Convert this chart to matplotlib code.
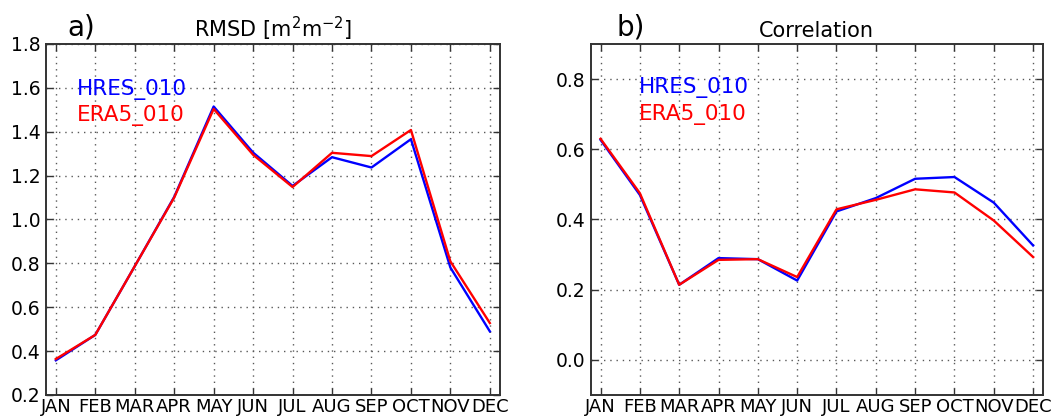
import matplotlib
matplotlib.use('Agg')
import matplotlib.pyplot as plt

months = ['JAN', 'FEB', 'MAR', 'APR', 'MAY', 'JUN', 'JUL', 'AUG', 'SEP', 'OCT', 'NOV', 'DEC']

# RMSD [m2 m-2]
rmsd_hres = [0.358, 0.474, 0.787, 1.103, 1.515, 1.305, 1.153, 1.284, 1.237, 1.366, 0.781, 0.490]
rmsd_era5 = [0.364, 0.474, 0.787, 1.100, 1.504, 1.295, 1.148, 1.304, 1.289, 1.408, 0.809, 0.528]

# Correlation
corr_hres = [0.627, 0.470, 0.214, 0.290, 0.287, 0.226, 0.423, 0.461, 0.516, 0.521, 0.448, 0.326]
corr_era5 = [0.630, 0.475, 0.214, 0.285, 0.287, 0.236, 0.429, 0.456, 0.486, 0.477, 0.397, 0.293]

fig = plt.figure(figsize=(10.52, 4.19), dpi=100)
ax1 = fig.add_axes([0.0437, 0.0573, 0.4313, 0.8377])
ax2 = fig.add_axes([0.5615, 0.0573, 0.4299, 0.8377])

x = list(range(len(months)))

def style(ax, ylim, yticks):
    ax.set_xlim(-0.25, 11.25)
    ax.set_ylim(*ylim)
    ax.set_yticks(yticks)
    ax.set_yticklabels(['%.1f' % v for v in yticks])
    ax.set_xticks(x)
    ax.set_xticklabels(months)
    ax.grid(True, color='0.35', linestyle=(0, (1, 3.5)), linewidth=1.0)
    ax.tick_params(direction='in', length=5, width=1, labelsize=13.5, pad=4,
                   top=True, right=True, color='0.2', labelcolor='black')
    ax.tick_params(axis='x', pad=2, labelsize=13)
    for s in ax.spines.values():
        s.set_linewidth(1.4)
        s.set_color('0.2')
    ax.set_axisbelow(True)

ax1.plot(x, rmsd_hres, color='blue', lw=1.7)
ax1.plot(x, rmsd_era5, color='red', lw=1.7)
style(ax1, (0.2, 1.8), [0.2, 0.4, 0.6, 0.8, 1.0, 1.2, 1.4, 1.6, 1.8])
ax1.set_title(r'RMSD [m$^\mathregular{2}$m$^\mathregular{-2}$]', fontsize=15, pad=5)
ax1.text(0.068, 0.87, 'HRES_010', color='blue', fontsize=15.5, transform=ax1.transAxes, va='center')
ax1.text(0.068, 0.795, 'ERA5_010', color='red', fontsize=15.5, transform=ax1.transAxes, va='center')
fig.text(0.064, 0.935, 'a)', fontsize=20, va='center')

ax2.plot(x, corr_hres, color='blue', lw=1.7)
ax2.plot(x, corr_era5, color='red', lw=1.7)
style(ax2, (-0.1, 0.9), [0.0, 0.2, 0.4, 0.6, 0.8])
ax2.set_title('Correlation', fontsize=15, pad=5)
ax2.text(0.106, 0.875, 'HRES_010', color='blue', fontsize=15.5, transform=ax2.transAxes, va='center')
ax2.text(0.106, 0.80, 'ERA5_010', color='red', fontsize=15.5, transform=ax2.transAxes, va='center')
fig.text(0.586, 0.935, 'b)', fontsize=20, va='center')

fig.savefig('out.png', dpi=100)
